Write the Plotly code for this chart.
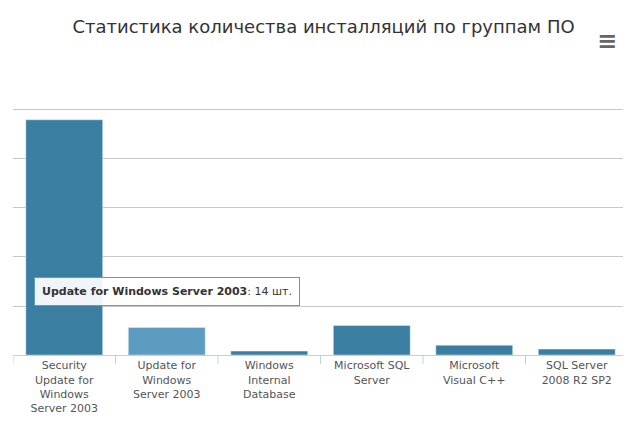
import plotly.graph_objects as go

categories = ["Security<br>Update for<br>Windows<br>Server 2003", "Update for<br>Windows<br>Server 2003",
              "Windows<br>Internal<br>Database", "Microsoft SQL<br>Server", "Microsoft<br>Visual C++",
              "SQL Server<br>2008 R2 SP2"]
values = [120, 14, 2, 15, 5, 3]
colors = ["#3a7ea1", "#5b9cc0", "#3a7ea1", "#3a7ea1", "#3a7ea1", "#3a7ea1"]

fig = go.Figure(go.Bar(x=list(range(len(values))), y=values, marker_color=colors, width=0.75))

fig.update_layout(
    width=631, height=423, plot_bgcolor="white", paper_bgcolor="white",
    margin=dict(l=5, r=11, t=52, b=76),
    title=dict(text="Статистика количества инсталляций по группам ПО", x=0.5, xanchor="center",
               y=0.955, yanchor="middle", font=dict(family="DejaVu Sans", size=18, color="#333")),
    font=dict(family="DejaVu Sans", size=11, color="#555"),
    showlegend=False,
)
fig.update_xaxes(tickvals=list(range(len(values))), ticktext=categories, range=[-0.5, 5.5],
                 showline=True, linecolor="#c0d0e0", ticks="", showgrid=False)
fig.update_yaxes(range=[0, 150.5], dtick=25, showticklabels=False, gridcolor="#c8c8c8",
                 zeroline=False)
for i in range(len(values) + 1):
    fig.add_shape(type="line", xref="x", yref="paper", x0=i - 0.5, x1=i - 0.5, y0=0, y1=-0.03,
                  line=dict(color="#c0d0e0", width=1))
fig.add_annotation(x=1, y=14, xref="x", yref="y", yshift=36, showarrow=False,
                   text="<b>Update for Windows Server 2003</b>: 14 шт.",
                   bgcolor="rgba(255,255,255,0.92)", bordercolor="#5b9cc0", borderwidth=1,
                   borderpad=7, font=dict(size=11, color="#333"))
fig.add_annotation(x=0.985, y=1.12, xref="paper", yref="paper", text="<b>≡</b>", showarrow=False,
                   font=dict(size=24, color="#666"))
fig.write_html("out.html")
